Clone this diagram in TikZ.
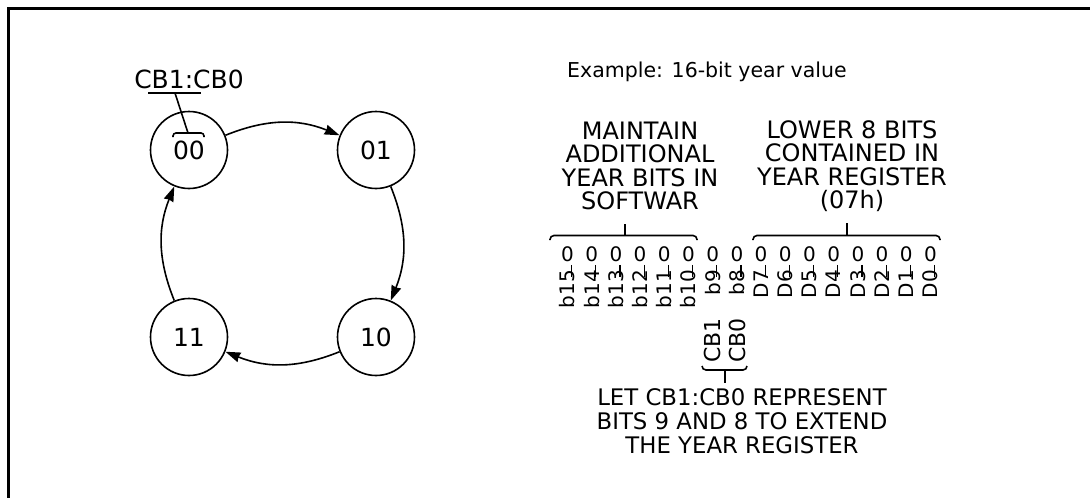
\documentclass[tikz,border=0pt]{standalone}
\usepackage{fontspec}
\setmainfont{DejaVu Sans}
\usetikzlibrary{arrows.meta, positioning}

\begin{document}
\begin{tikzpicture}[x=1pt, y=-1pt,
			state/.style={draw, circle, line width=1.6pt, minimum size=77pt, inner sep=0pt, font=\fontsize{25}{28}\selectfont},
			arr/.style={-{Stealth[length=15pt, width=10pt, inset=1pt]}, line width=1.6pt, bend left=22},
			txt/.style={inner sep=0pt, align=center, font=\fontsize{24}{23.4}\selectfont},
			bitval/.style={inner sep=0pt, font=\fontsize{20}{22}\selectfont},
			bitname/.style={inner sep=0pt, rotate=90, font=\fontsize{20}{22}\selectfont},
			ln/.style={line width=1.6pt}]
			\useasboundingbox (0,0) rectangle (1090,498);
			\draw[line width=3.3pt] (8.3,498) -- (8.3,8.3) -- (1090,8.3);
			% state cycle
			\node[state] (s00) at (189,150) {00};
			\node[state] (s01) at (376,150) {01};
			\node[state] (s10) at (376,337) {10};
			\node[state] (s11) at (189,337) {11};
			\draw[arr] (s00) to (s01);
			\draw[arr] (s01) to (s10);
			\draw[arr] (s10) to (s11);
			\draw[arr] (s11) to (s00);
			\node[inner sep=0pt, font=\fontsize{25}{27}\selectfont] (cblbl) at (189,79) {CB1:CB0};
			\coordinate (ptr) at (175,93);
			\coordinate (ovl) at (188,133);
			\draw[ln] (148,93) -- (201,93);
			\draw[ln] (ptr) -- (ovl);
			\draw[ln, rounded corners=3pt] (173,137) -- (173,133) -- (204,133) -- (204,137);
			% year register
			\node[txt, anchor=west, font=\fontsize{20.5}{23}\selectfont] (ex) at (567,72) {Example: 16-bit year value};
			\node[txt] (soft) at (640,166) {MAINTAIN\\ADDITIONAL\\YEAR BITS IN\\SOFTWAR};
			\node[txt] (reg) at (852,166) {LOWER 8 BITS\\CONTAINED IN\\YEAR REGISTER\\(07h)};
			\foreach \lbl [count=\i from 0] in {b15,b14,b13,b12,b11,b10,b9,b8,D7,D6,D5,D4,D3,D2,D1,D0} {
				\node[bitval] (v\i) at ({567.5+24.2*\i},254) {0};
				\node[bitname, anchor=east] (n\i) at ({567.5+24.2*\i},270) {\lbl};
				\draw[line width=1.2pt] ([xshift=4pt]v\i.south) ++(0,3) -- ++(0,12);
			}
			\draw[ln, rounded corners=4pt] (550,240) -- (550,235.5) -- (697,235.5) -- (697,240);
			\draw[ln] (625,235.5) -- (625,224);
			\draw[ln, rounded corners=4pt] (753,240) -- (753,235.5) -- (940,235.5) -- (940,240);
			\draw[ln] (847,235.5) -- (847,223);
			\node[bitname, anchor=west, font=\fontsize{22}{24}\selectfont] (cb1) at (712,363) {CB1};
			\node[bitname, anchor=west, font=\fontsize{22}{24}\selectfont] (cb0) at (737,363) {CB0};
			\draw[ln, rounded corners=4pt] (702,366) -- (702,370) -- (747,370) -- (747,366);
			\draw[ln] (725,370) -- (725,383);
			\node[txt, font=\fontsize{22.8}{24.2}\selectfont] (ext) at (742,421) {LET CB1:CB0 REPRESENT\\BITS 9 AND 8 TO EXTEND\\THE YEAR REGISTER};
		\end{tikzpicture}
\end{document}
